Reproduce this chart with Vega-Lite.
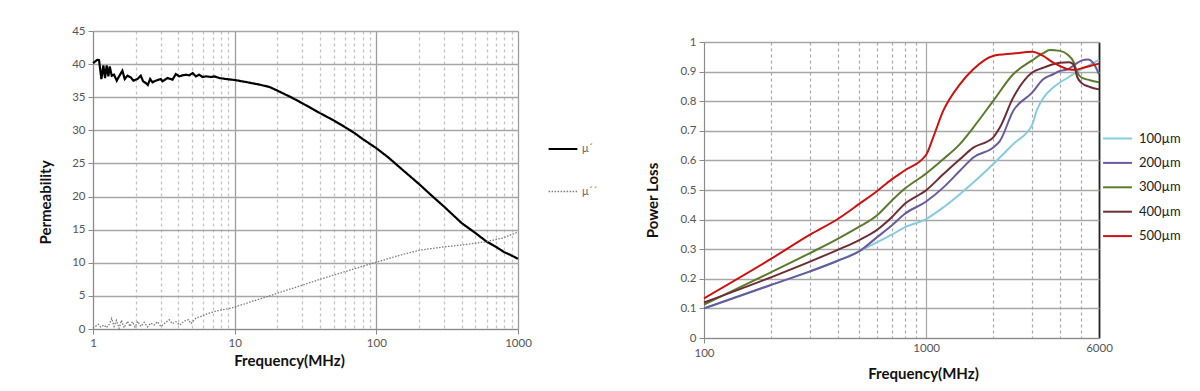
{
  "$schema": "https://vega.github.io/schema/vega-lite/v6.json",
  "background": "white",
  "padding": {"left": 38, "top": 25, "right": 0, "bottom": 0},
  "spacing": 47,
  "columns": 2,
  "align": "none",
  "resolve": {"scale": {"color": "independent", "strokeDash": "independent", "strokeWidth": "independent"}},
  "config": {
    "view": {"stroke": null},
    "font": "Lato",
    "axis": {
      "labelFont": "Lato", "labelFontSize": 11.5, "labelColor": "#555555", "labelFlush": false,
      "titleFont": "Lato", "titleFontSize": 15, "titleFontWeight": "bold", "titleColor": "#111111",
      "domainColor": "#8a8a8a", "tickColor": "#8a8a8a", "gridColor": "#a6a6a6", "gridWidth": 1.3
    },
    "legend": {"labelFont": "Lato", "padding": 0}
  },
  "datasets": {
    "perm": [
      {"f": 1, "v": 40.15, "s": "μ´"}, {"f": 1.073, "v": 40.65, "s": "μ´"}, {"f": 1.103, "v": 40.6, "s": "μ´"}, {"f": 1.146, "v": 37.75, "s": "μ´"},
      {"f": 1.183, "v": 39.8, "s": "μ´"}, {"f": 1.216, "v": 37.9, "s": "μ´"}, {"f": 1.249, "v": 39.8, "s": "μ´"}, {"f": 1.284, "v": 38.15, "s": "μ´"},
      {"f": 1.312, "v": 39.65, "s": "μ´"}, {"f": 1.356, "v": 38.25, "s": "μ´"}, {"f": 1.408, "v": 38.4, "s": "μ´"}, {"f": 1.471, "v": 37.5, "s": "μ´"},
      {"f": 1.528, "v": 38.15, "s": "μ´"}, {"f": 1.612, "v": 39.0, "s": "μ´"}, {"f": 1.675, "v": 37.75, "s": "μ´"}, {"f": 1.75, "v": 38.25, "s": "μ´"},
      {"f": 1.847, "v": 38.0, "s": "μ´"}, {"f": 1.929, "v": 37.5, "s": "μ´"}, {"f": 2.059, "v": 37.75, "s": "μ´"}, {"f": 2.175, "v": 38.25, "s": "μ´"},
      {"f": 2.258, "v": 37.4, "s": "μ´"}, {"f": 2.358, "v": 37.15, "s": "μ´"}, {"f": 2.437, "v": 36.85, "s": "μ´"}, {"f": 2.531, "v": 37.75, "s": "μ´"},
      {"f": 2.63, "v": 37.25, "s": "μ´"}, {"f": 2.776, "v": 37.5, "s": "μ´"}, {"f": 3.011, "v": 37.75, "s": "μ´"}, {"f": 3.094, "v": 37.4, "s": "μ´"},
      {"f": 3.357, "v": 37.9, "s": "μ´"}, {"f": 3.641, "v": 37.65, "s": "μ´"}, {"f": 3.846, "v": 38.5, "s": "μ´"}, {"f": 4.06, "v": 38.15, "s": "μ´"},
      {"f": 4.287, "v": 38.3, "s": "μ´"}, {"f": 4.526, "v": 38.4, "s": "μ´"}, {"f": 4.778, "v": 38.3, "s": "μ´"}, {"f": 5.045, "v": 38.65, "s": "μ´"},
      {"f": 5.326, "v": 38.15, "s": "μ´"}, {"f": 5.623, "v": 38.4, "s": "μ´"}, {"f": 5.937, "v": 38.05, "s": "μ´"}, {"f": 6.268, "v": 38.15, "s": "μ´"},
      {"f": 6.8, "v": 38.05, "s": "μ´"}, {"f": 7.18, "v": 38.15, "s": "μ´"}, {"f": 7.79, "v": 37.9, "s": "μ´"}, {"f": 8.68, "v": 37.75, "s": "μ´"},
      {"f": 10, "v": 37.6, "s": "μ´"}, {"f": 12, "v": 37.3, "s": "μ´"}, {"f": 15, "v": 36.9, "s": "μ´"}, {"f": 17.6, "v": 36.55, "s": "μ´"},
      {"f": 20, "v": 36.0, "s": "μ´"}, {"f": 25, "v": 35.0, "s": "μ´"}, {"f": 30, "v": 34.1, "s": "μ´"}, {"f": 40, "v": 32.6, "s": "μ´"},
      {"f": 50, "v": 31.5, "s": "μ´"}, {"f": 61, "v": 30.4, "s": "μ´"}, {"f": 70, "v": 29.6, "s": "μ´"}, {"f": 80, "v": 28.7, "s": "μ´"},
      {"f": 100, "v": 27.3, "s": "μ´"}, {"f": 120, "v": 26.0, "s": "μ´"}, {"f": 150, "v": 24.2, "s": "μ´"}, {"f": 200, "v": 21.9, "s": "μ´"},
      {"f": 250, "v": 20.0, "s": "μ´"}, {"f": 300, "v": 18.5, "s": "μ´"}, {"f": 400, "v": 16.0, "s": "μ´"}, {"f": 500, "v": 14.5, "s": "μ´"},
      {"f": 600, "v": 13.2, "s": "μ´"}, {"f": 700, "v": 12.4, "s": "μ´"}, {"f": 800, "v": 11.6, "s": "μ´"}, {"f": 900, "v": 11.1, "s": "μ´"},
      {"f": 1000, "v": 10.6, "s": "μ´"},
      {"f": 1, "v": 0.1, "s": "μ´´"}, {"f": 1.044, "v": 0.4, "s": "μ´´"}, {"f": 1.091, "v": 0.7, "s": "μ´´"}, {"f": 1.133, "v": 0.3, "s": "μ´´"},
      {"f": 1.196, "v": 0.6, "s": "μ´´"}, {"f": 1.242, "v": 0.2, "s": "μ´´"}, {"f": 1.298, "v": 0.65, "s": "μ´´"}, {"f": 1.355, "v": 1.6, "s": "μ´´"},
      {"f": 1.408, "v": 0.4, "s": "μ´´"}, {"f": 1.463, "v": 1.3, "s": "μ´´"}, {"f": 1.528, "v": 0.1, "s": "μ´´"}, {"f": 1.587, "v": 1.3, "s": "μ´´"},
      {"f": 1.657, "v": 0.2, "s": "μ´´"}, {"f": 1.75, "v": 1.15, "s": "μ´´"}, {"f": 1.827, "v": 0.4, "s": "μ´´"}, {"f": 1.898, "v": 1.1, "s": "μ´´"},
      {"f": 1.981, "v": 0.3, "s": "μ´´"}, {"f": 2.069, "v": 1.15, "s": "μ´´"}, {"f": 2.174, "v": 0.4, "s": "μ´´"}, {"f": 2.296, "v": 1.0, "s": "μ´´"},
      {"f": 2.423, "v": 0.3, "s": "μ´´"}, {"f": 2.557, "v": 0.9, "s": "μ´´"}, {"f": 2.699, "v": 0.6, "s": "μ´´"}, {"f": 2.849, "v": 1.1, "s": "μ´´"},
      {"f": 3.011, "v": 0.4, "s": "μ´´"}, {"f": 3.265, "v": 1.0, "s": "μ´´"}, {"f": 3.446, "v": 1.4, "s": "μ´´"}, {"f": 3.637, "v": 0.8, "s": "μ´´"},
      {"f": 3.846, "v": 1.1, "s": "μ´´"}, {"f": 4.1, "v": 0.6, "s": "μ´´"}, {"f": 4.4, "v": 1.2, "s": "μ´´"}, {"f": 4.73, "v": 1.4, "s": "μ´´"},
      {"f": 4.91, "v": 0.8, "s": "μ´´"}, {"f": 5.33, "v": 1.65, "s": "μ´´"}, {"f": 5.94, "v": 2.0, "s": "μ´´"}, {"f": 6.62, "v": 2.4, "s": "μ´´"},
      {"f": 7.37, "v": 2.7, "s": "μ´´"}, {"f": 8.21, "v": 2.9, "s": "μ´´"}, {"f": 9.15, "v": 3.1, "s": "μ´´"}, {"f": 10, "v": 3.3, "s": "μ´´"},
      {"f": 13.4, "v": 4.2, "s": "μ´´"}, {"f": 17.6, "v": 5.0, "s": "μ´´"}, {"f": 20, "v": 5.4, "s": "μ´´"}, {"f": 27, "v": 6.3, "s": "μ´´"},
      {"f": 40, "v": 7.5, "s": "μ´´"}, {"f": 61, "v": 8.7, "s": "μ´´"}, {"f": 100, "v": 10.1, "s": "μ´´"}, {"f": 150, "v": 11.2, "s": "μ´´"},
      {"f": 202, "v": 11.9, "s": "μ´´"}, {"f": 300, "v": 12.4, "s": "μ´´"}, {"f": 410, "v": 12.7, "s": "μ´´"}, {"f": 600, "v": 13.2, "s": "μ´´"},
      {"f": 785, "v": 13.75, "s": "μ´´"}, {"f": 1000, "v": 14.65, "s": "μ´´"}
    ],
    "loss": [
      {"f": 100, "v": 0.10, "s": "100µm"}, {"f": 200, "v": 0.179, "s": "100µm"}, {"f": 300, "v": 0.225, "s": "100µm"}, {"f": 400, "v": 0.261, "s": "100µm"},
      {"f": 500, "v": 0.293, "s": "100µm"}, {"f": 600, "v": 0.323, "s": "100µm"}, {"f": 700, "v": 0.349, "s": "100µm"}, {"f": 800, "v": 0.374, "s": "100µm"},
      {"f": 1000, "v": 0.402, "s": "100µm"}, {"f": 1193, "v": 0.441, "s": "100µm"}, {"f": 1418, "v": 0.486, "s": "100µm"}, {"f": 1630, "v": 0.525, "s": "100µm"},
      {"f": 2000, "v": 0.587, "s": "100µm"}, {"f": 2465, "v": 0.655, "s": "100µm"}, {"f": 3000, "v": 0.72, "s": "100µm"}, {"f": 3150, "v": 0.77, "s": "100µm"},
      {"f": 3363, "v": 0.81, "s": "100µm"}, {"f": 3733, "v": 0.846, "s": "100µm"}, {"f": 4000, "v": 0.863, "s": "100µm"}, {"f": 4356, "v": 0.88, "s": "100µm"},
      {"f": 5000, "v": 0.908, "s": "100µm"}, {"f": 5460, "v": 0.923, "s": "100µm"}, {"f": 6000, "v": 0.94, "s": "100µm"},
      {"f": 100, "v": 0.10, "s": "200µm"}, {"f": 200, "v": 0.179, "s": "200µm"}, {"f": 300, "v": 0.225, "s": "200µm"}, {"f": 400, "v": 0.261, "s": "200µm"},
      {"f": 500, "v": 0.293, "s": "200µm"}, {"f": 600, "v": 0.34, "s": "200µm"}, {"f": 700, "v": 0.38, "s": "200µm"}, {"f": 800, "v": 0.419, "s": "200µm"},
      {"f": 1000, "v": 0.461, "s": "200µm"}, {"f": 1193, "v": 0.508, "s": "200µm"}, {"f": 1418, "v": 0.565, "s": "200µm"}, {"f": 1630, "v": 0.61, "s": "200µm"},
      {"f": 2000, "v": 0.643, "s": "200µm"}, {"f": 2146, "v": 0.665, "s": "200µm"}, {"f": 2465, "v": 0.767, "s": "200µm"}, {"f": 3000, "v": 0.829, "s": "200µm"},
      {"f": 3363, "v": 0.874, "s": "200µm"}, {"f": 3733, "v": 0.891, "s": "200µm"}, {"f": 4000, "v": 0.902, "s": "200µm"}, {"f": 4356, "v": 0.908, "s": "200µm"},
      {"f": 4700, "v": 0.925, "s": "200µm"}, {"f": 5000, "v": 0.937, "s": "200µm"}, {"f": 5350, "v": 0.941, "s": "200µm"}, {"f": 5700, "v": 0.925, "s": "200µm"},
      {"f": 6000, "v": 0.891, "s": "200µm"},
      {"f": 100, "v": 0.113, "s": "300µm"}, {"f": 200, "v": 0.222, "s": "300µm"}, {"f": 300, "v": 0.287, "s": "300µm"}, {"f": 400, "v": 0.335, "s": "300µm"},
      {"f": 500, "v": 0.376, "s": "300µm"}, {"f": 600, "v": 0.414, "s": "300µm"}, {"f": 700, "v": 0.464, "s": "300µm"}, {"f": 800, "v": 0.504, "s": "300µm"},
      {"f": 1000, "v": 0.556, "s": "300µm"}, {"f": 1193, "v": 0.604, "s": "300µm"}, {"f": 1418, "v": 0.655, "s": "300µm"}, {"f": 1630, "v": 0.711, "s": "300µm"},
      {"f": 2000, "v": 0.8, "s": "300µm"}, {"f": 2465, "v": 0.891, "s": "300µm"}, {"f": 3000, "v": 0.938, "s": "300µm"}, {"f": 3363, "v": 0.962, "s": "300µm"},
      {"f": 3600, "v": 0.973, "s": "300µm"}, {"f": 4000, "v": 0.97, "s": "300µm"}, {"f": 4356, "v": 0.956, "s": "300µm"}, {"f": 4590, "v": 0.936, "s": "300µm"},
      {"f": 4800, "v": 0.895, "s": "300µm"}, {"f": 5000, "v": 0.88, "s": "300µm"}, {"f": 5460, "v": 0.871, "s": "300µm"}, {"f": 6000, "v": 0.864, "s": "300µm"},
      {"f": 100, "v": 0.12, "s": "400µm"}, {"f": 200, "v": 0.205, "s": "400µm"}, {"f": 300, "v": 0.258, "s": "400µm"}, {"f": 400, "v": 0.298, "s": "400µm"},
      {"f": 500, "v": 0.331, "s": "400µm"}, {"f": 600, "v": 0.365, "s": "400µm"}, {"f": 700, "v": 0.408, "s": "400µm"}, {"f": 800, "v": 0.453, "s": "400µm"},
      {"f": 1000, "v": 0.499, "s": "400µm"}, {"f": 1193, "v": 0.553, "s": "400µm"}, {"f": 1418, "v": 0.604, "s": "400µm"}, {"f": 1630, "v": 0.643, "s": "400µm"},
      {"f": 2000, "v": 0.677, "s": "400µm"}, {"f": 2146, "v": 0.711, "s": "400µm"}, {"f": 2465, "v": 0.812, "s": "400µm"}, {"f": 3000, "v": 0.897, "s": "400µm"},
      {"f": 3363, "v": 0.913, "s": "400µm"}, {"f": 3733, "v": 0.925, "s": "400µm"}, {"f": 4000, "v": 0.93, "s": "400µm"}, {"f": 4400, "v": 0.932, "s": "400µm"},
      {"f": 4600, "v": 0.925, "s": "400µm"}, {"f": 4800, "v": 0.88, "s": "400µm"}, {"f": 5000, "v": 0.862, "s": "400µm"}, {"f": 5460, "v": 0.848, "s": "400µm"},
      {"f": 6000, "v": 0.84, "s": "400µm"},
      {"f": 100, "v": 0.134, "s": "500µm"}, {"f": 200, "v": 0.267, "s": "500µm"}, {"f": 300, "v": 0.349, "s": "500µm"}, {"f": 400, "v": 0.402, "s": "500µm"},
      {"f": 500, "v": 0.453, "s": "500µm"}, {"f": 600, "v": 0.496, "s": "500µm"}, {"f": 700, "v": 0.536, "s": "500µm"}, {"f": 800, "v": 0.566, "s": "500µm"},
      {"f": 1000, "v": 0.619, "s": "500µm"}, {"f": 1075, "v": 0.677, "s": "500µm"}, {"f": 1193, "v": 0.767, "s": "500µm"}, {"f": 1418, "v": 0.857, "s": "500µm"},
      {"f": 1630, "v": 0.908, "s": "500µm"}, {"f": 2000, "v": 0.953, "s": "500µm"}, {"f": 2465, "v": 0.961, "s": "500µm"}, {"f": 3000, "v": 0.967, "s": "500µm"},
      {"f": 3363, "v": 0.953, "s": "500µm"}, {"f": 3733, "v": 0.93, "s": "500µm"}, {"f": 4000, "v": 0.919, "s": "500µm"}, {"f": 4356, "v": 0.908, "s": "500µm"},
      {"f": 4700, "v": 0.906, "s": "500µm"}, {"f": 5000, "v": 0.911, "s": "500µm"}, {"f": 5460, "v": 0.919, "s": "500µm"}, {"f": 6000, "v": 0.927, "s": "500µm"}
    ]
  },
  "concat": [
    {
      "width": 425,
      "height": 298,
      "data": {"name": "perm"},
      "mark": {"type": "line", "interpolate": "linear"},
      "encoding": {
        "x": {
          "field": "f", "type": "quantitative",
          "scale": {"type": "log", "domain": [1, 1000]},
          "axis": {
            "title": "Frequency(MHz)",
            "values": [1, 2, 3, 4, 5, 6, 7, 8, 9, 10, 20, 30, 40, 50, 60, 70, 80, 90, 100, 200, 300, 400, 500, 600, 700, 800, 900, 1000],
            "format": "d",
            "labelExpr": "indexof([1, 10, 100, 1000], datum.value) >= 0 ? datum.label : ''",
            "labelPadding": 3,
            "titlePadding": 5,
            "titleX": 196,
            "tickSize": {"condition": {"test": "indexof([1, 10, 100, 1000], datum.value) >= 0", "value": 5}, "value": 0},
            "gridDash": {"condition": {"test": "indexof([1, 10, 100, 1000], datum.value) >= 0", "value": []}, "value": [3, 3]},
            "gridColor": {"condition": {"test": "indexof([1, 10, 100, 1000], datum.value) >= 0", "value": "#9c9c9c"}, "value": "#c4c4c4"}
          }
        },
        "y": {
          "field": "v", "type": "quantitative",
          "scale": {"domain": [0, 45]},
          "axis": {
            "title": "Permeability",
            "values": [0, 5, 10, 15, 20, 25, 30, 35, 40, 45],
            "titlePadding": 18,
            "titleY": 171,
            "labelPadding": 3
          }
        },
        "color": {
          "field": "s", "type": "nominal",
          "scale": {"domain": ["μ´", "μ´´"], "range": ["#000000", "#7a7a7a"]},
          "legend": {"title": null, "orient": "none", "legendX": 454, "legendY": 102, "symbolType": "stroke", "symbolSize": 830, "rowPadding": 22, "labelFontSize": 11, "labelColor": "#666666", "labelOffset": 3}
        },
        "strokeDash": {
          "field": "s", "type": "nominal",
          "scale": {"domain": ["μ´", "μ´´"], "range": [[1, 0], [1.5, 1.5]]},
          "legend": {"title": null, "orient": "none", "legendX": 454, "legendY": 102, "symbolType": "stroke", "symbolSize": 830, "rowPadding": 22, "labelFontSize": 11, "labelColor": "#666666", "labelOffset": 3}
        },
        "strokeWidth": {
          "field": "s", "type": "ordinal",
          "scale": {"domain": ["μ´", "μ´´"], "range": [2.2, 1.3]},
          "legend": {"title": null, "orient": "none", "legendX": 454, "legendY": 102, "symbolType": "stroke", "symbolSize": 830, "rowPadding": 22, "labelFontSize": 11, "labelColor": "#666666", "labelOffset": 3}
        }
      }
    },
    {
      "spacing": 4,
      "vconcat": [
        {
          "width": 395,
          "height": 1,
          "data": {"values": [{}]},
          "mark": {"type": "rule", "opacity": 0},
          "encoding": {}
        },
        {
          "width": 395,
          "height": 296,
          "data": {"name": "loss"},
          "mark": {"type": "line", "interpolate": "monotone", "strokeWidth": 2},
          "encoding": {
            "x": {
              "field": "f", "type": "quantitative",
              "scale": {"type": "log", "domain": [100, 6000]},
              "axis": {
                "title": "Frequency(MHz)",
                "values": [100, 200, 300, 400, 500, 600, 700, 800, 900, 1000, 2000, 3000, 4000, 5000, 6000],
                "format": "d",
                "labelExpr": "indexof([100, 1000, 6000], datum.value) >= 0 ? datum.label : ''",
                "labelPadding": 4,
                "titlePadding": 8,
                "titleX": 219,
                "tickSize": {"condition": {"test": "datum.value == 100", "value": 5}, "value": 0},
                "gridDash": {"condition": {"test": "indexof([100, 1000, 6000], datum.value) >= 0", "value": []}, "value": [3, 3]},
                "gridColor": {"condition": {"test": "datum.value == 6000", "value": "#222222"}, "value": "#a6a6a6"},
                "gridWidth": {"condition": {"test": "datum.value == 6000", "value": 1.8}, "value": 1.2}
              }
            },
            "y": {
              "field": "v", "type": "quantitative",
              "scale": {"domain": [0, 1]},
              "axis": {
                "title": "Power  Loss",
                "format": "~g",
                "values": [0, 0.1, 0.2, 0.3, 0.4, 0.5, 0.6, 0.7, 0.8, 0.9, 1],
                "titlePadding": 19,
                "titleY": 158,
                "labelPadding": 3
              }
            },
            "color": {
              "field": "s", "type": "nominal",
              "scale": {"domain": ["100µm", "200µm", "300µm", "400µm", "500µm"], "range": ["#86cbde", "#6a5a9c", "#5b7a2e", "#6e2c34", "#cc1111"]},
              "legend": {"title": null, "orient": "none", "legendX": 398, "legendY": 92, "symbolType": "stroke", "symbolSize": 830, "symbolStrokeWidth": 2, "rowPadding": 1.4, "labelFontSize": 13, "labelColor": "#222222", "labelOffset": 6}
            }
          }
        }
      ]
    }
  ]
}
